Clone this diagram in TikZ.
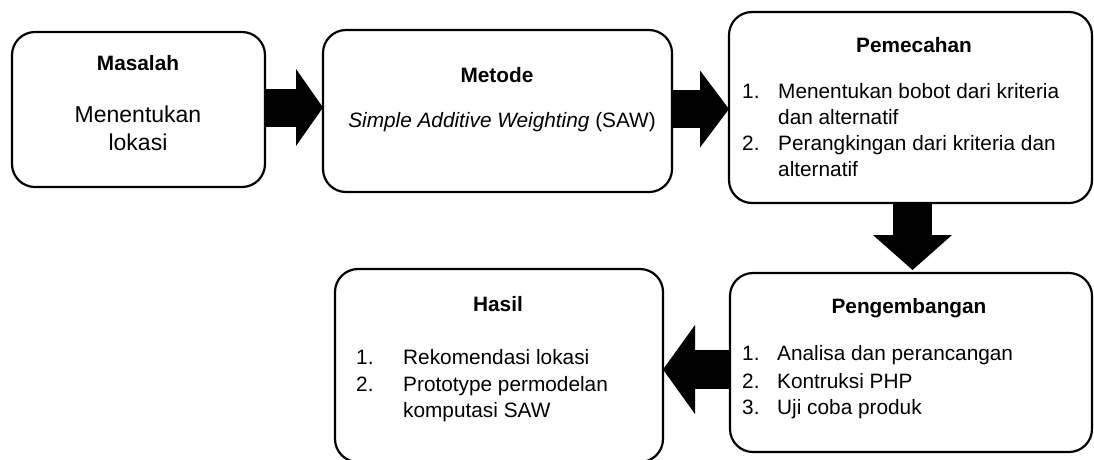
\documentclass[tikz,border=0pt]{standalone}
\usepackage{fontspec}
\setmainfont{Liberation Sans}
\usetikzlibrary{arrows.meta}
\begin{document}
\begin{tikzpicture}[x=1pt,y=-1pt,
  box/.style={draw, line width=2.2pt, rounded corners=23pt, inner sep=0pt, outer sep=0pt},
  ttl/.style={font=\fontsize{20.8}{25}\selectfont\bfseries, anchor=base, inner sep=0pt},
  txt/.style={font=\fontsize{20.8}{25}\selectfont, anchor=base west, inner sep=0pt},
  ctxt/.style={font=\fontsize{20.8}{25}\selectfont, anchor=base, inner sep=0pt},
  bigtxt/.style={font=\fontsize{23}{28}\selectfont, anchor=base, inner sep=0pt},
  fat/.style={line width=38pt}]
\useasboundingbox (0,0) rectangle (1094,459);
% boxes
\node[box, minimum width=253pt, minimum height=155pt] (m) at (138.5,109.5) {};
\node[box, minimum width=349pt, minimum height=162pt] (mt) at (497.5,111) {};
\node[box, minimum width=363pt, minimum height=191pt] (pm) at (910.5,107.5) {};
\node[box, minimum width=362pt, minimum height=179pt] (pg) at (911,362.5) {};
\node[box, minimum width=328pt, minimum height=193pt] (hs) at (499,365.5) {};
% Masalah
\node[ttl] (t1) at (138,70) {Masalah};
\node[bigtxt] (t1a) at (138,122) {Menentukan};
\node[bigtxt] (t1b) at (138,150) {lokasi};
% Metode
\node[ttl] (t2) at (497,82) {Metode};
\node[ctxt] (t2a) at (502,127) {\itshape Simple Additive Weighting\upshape\ (SAW)};
% Pemecahan
\node[ttl] (t3) at (914,52) {Pemecahan};
\node[txt] (n31) at (742,98) {1.};
\node[txt] (t31) at (778,98) {Menentukan bobot dari kriteria};
\node[txt] (t31b) at (778,124) {dan alternatif};
\node[txt] (n32) at (742,150) {2.};
\node[txt] (t32) at (778,150) {Perangkingan dari kriteria dan};
\node[txt] (t32b) at (778,176) {alternatif};
% Pengembangan
\node[ttl] (t4) at (909,313) {Pengembangan};
\node[txt] (n41) at (742,360) {1.};
\node[txt] (t41) at (777,360) {Analisa dan perancangan};
\node[txt] (n42) at (742,388) {2.};
\node[txt] (t42) at (777,388) {Kontruksi PHP};
\node[txt] (n43) at (742,414) {3.};
\node[txt] (t43) at (777,414) {Uji coba produk};
% Hasil
\node[ttl] (t5) at (498,311) {Hasil};
\node[txt] (n51) at (356,364) {1.};
\node[txt] (t51) at (403,364) {Rekomendasi lokasi};
\node[txt] (n52) at (356,391) {2.};
\node[txt] (t52) at (403,391) {Prototype permodelan};
\node[txt] (t52b) at (403,417) {komputasi SAW};
% arrows
\coordinate (a1s) at ([yshift=2pt]m.east);
\draw[fat, -{Triangle[length=27pt,width=77pt,line width=0pt]}] (a1s) -- (a1s -| mt.west);
\coordinate (a2s) at ([yshift=2pt]mt.east);
\draw[fat, -{Triangle[length=29pt,width=77pt,line width=0pt]}] (a2s) -- (a2s -| pm.west);
\coordinate (a3s) at ([xshift=2pt]pm.south);
\draw[line width=39pt, -{Triangle[length=35pt,width=79pt,line width=0pt]}] (a3s) -- ([yshift=3pt]a3s |- pg.north);
\coordinate (a4s) at ([yshift=-7pt]pg.west);
\draw[line width=39pt, -{Triangle[length=32pt,width=89pt,line width=0pt]}] (a4s) -- (a4s -| hs.east);
\end{tikzpicture}
\end{document}
